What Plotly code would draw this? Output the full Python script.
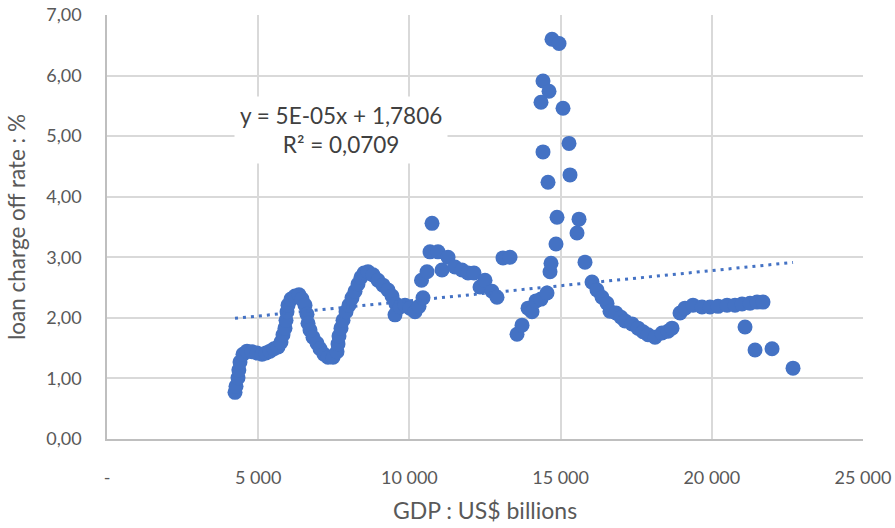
import plotly.graph_objects as go

# GDP (US$ billions) and loan charge-off rate (%)
gdp = [
    4233, 4266, 4332, 4360, 4398, 4497, 4630, 4795, 4960, 5126,
    5258, 5390, 5523, 5655, 5754, 5820, 5886, 5920, 5953, 5986,
    6085, 6217, 6350, 6449, 6548, 6614, 6647, 6713, 6812, 6945,
    7044, 7176, 7309, 7474, 7606, 7639, 7672, 7738, 7805, 7904,
    8003, 8102, 8201, 8301, 8400, 8499, 8631, 8797, 8962, 9127,
    9293, 9425, 9557, 9524, 9690, 9855, 10020, 10186, 10318, 10450,
    10400, 10582, 10682, 10748, 10946, 11277, 11078, 11508, 11740, 11938,
    12137, 12335, 12501, 12732, 12897, 13096, 13327, 13559, 13724, 13923,
    14055, 14187, 14352, 14551, 14650, 14683, 14848, 14882, 14584, 14418,
    14352, 14418, 14617, 14716, 14948, 15080, 15278, 15311, 15609, 15543,
    15807, 16039, 16204, 16370, 16535, 16634, 16833, 16998, 17130, 17362,
    17560, 17726, 17891, 18122, 18354, 18552, 18684, 18949, 19114, 19379,
    19676, 19941, 20206, 20504, 20768, 21000, 21264, 21496, 21694, 21099,
    21430, 21992, 22686,
]
charge_off = [
    0.77, 0.87, 1.01, 1.14, 1.27, 1.40, 1.45, 1.44, 1.42, 1.40,
    1.42, 1.45, 1.49, 1.52, 1.60, 1.72, 1.83, 1.96, 2.10, 2.21,
    2.31, 2.36, 2.38, 2.31, 2.21, 2.06, 1.91, 1.80, 1.68, 1.58,
    1.49, 1.40, 1.35, 1.35, 1.44, 1.57, 1.70, 1.83, 1.96, 2.10,
    2.21, 2.33, 2.44, 2.56, 2.67, 2.74, 2.76, 2.71, 2.62, 2.54,
    2.46, 2.36, 2.23, 2.05, 2.18, 2.21, 2.16, 2.10, 2.19, 2.33,
    2.62, 2.76, 3.09, 3.56, 3.09, 3.00, 2.79, 2.84, 2.79, 2.74,
    2.74, 2.51, 2.62, 2.44, 2.34, 2.99, 3.00, 1.73, 1.88, 2.16,
    2.10, 2.28, 2.31, 2.41, 2.76, 2.90, 3.22, 3.66, 4.24, 4.74,
    5.56, 5.91, 5.74, 6.60, 6.53, 5.46, 4.88, 4.36, 3.63, 3.40,
    2.92, 2.59, 2.46, 2.34, 2.24, 2.11, 2.08, 2.01, 1.95, 1.90,
    1.83, 1.77, 1.72, 1.68, 1.75, 1.78, 1.83, 2.08, 2.16, 2.21,
    2.18, 2.18, 2.19, 2.21, 2.21, 2.23, 2.24, 2.26, 2.26, 1.85,
    1.47, 1.49, 1.17,
]

# Linear trend as reported in the equation label
slope = 5e-05
intercept = 1.7806
r_squared = 0.0709

x_ticks = [0, 5000, 10000, 15000, 20000, 25000]
x_tick_text = ["-", "5 000", "10 000", "15 000", "20 000", "25 000"]
y_ticks = [0, 1, 2, 3, 4, 5, 6, 7]
y_tick_text = ["0,00", "1,00", "2,00", "3,00", "4,00", "5,00", "6,00", "7,00"]

blue = "#4472C4"
grey_text = "#595959"
font_family = "Lato, Carlito, Calibri, sans-serif"

x_trend = [min(gdp), max(gdp)]
y_trend = [slope * v + intercept for v in x_trend]

fig = go.Figure()
fig.add_trace(go.Scatter(
    x=gdp, y=charge_off, mode="markers",
    marker=dict(size=15, color=blue, line=dict(width=0)),
    showlegend=False, hoverinfo="x+y",
))
fig.add_trace(go.Scatter(
    x=x_trend, y=y_trend, mode="lines",
    line=dict(color=blue, width=3, dash="3px,5px"),
    showlegend=False, hoverinfo="skip",
))

eq_text = ("y = 5E-05x + " + f"{intercept:.4f}".replace(".", ",")
           + "<br>R² = " + f"{r_squared:.4f}".replace(".", ","))
fig.add_annotation(
    text=eq_text, xref="paper", yref="paper", x=0.31, y=0.729,
    xanchor="center", yanchor="middle",
    showarrow=False, align="center",
    font=dict(family=font_family, size=22.5, color="#404040"),
    bgcolor="white", borderpad=5,
)

fig.update_layout(
    width=895, height=528,
    margin=dict(l=107, r=32, t=15, b=89, autoexpand=False),
    paper_bgcolor="white", plot_bgcolor="white",
    font=dict(family=font_family, color=grey_text),
    xaxis=dict(
        range=[0, 25000], tickvals=x_ticks, ticktext=x_tick_text,
        automargin=False,
        showgrid=True, gridcolor="#d9d9d9", gridwidth=1.5,
        zeroline=False, showline=True, linecolor="#bfbfbf", linewidth=1.5,
        ticks="outside", ticklen=22, tickcolor="rgba(0,0,0,0)",
        tickfont=dict(size=18, color=grey_text),
        title=dict(text="GDP : US$ billions", standoff=16,
                   font=dict(size=23, color=grey_text)),
    ),
    yaxis=dict(
        range=[0, 7], tickvals=y_ticks, ticktext=y_tick_text,
        automargin=False,
        showgrid=True, gridcolor="#d9d9d9", gridwidth=1.5,
        zeroline=False, showline=True, linecolor="#bfbfbf", linewidth=1.5,
        ticks="outside", ticklen=20, tickcolor="rgba(0,0,0,0)",
        tickfont=dict(size=18, color=grey_text),
        title=dict(text="loan charge off rate : %", standoff=14,
                   font=dict(size=22.5, color=grey_text)),
    ),
)

fig.write_html("out.html")
